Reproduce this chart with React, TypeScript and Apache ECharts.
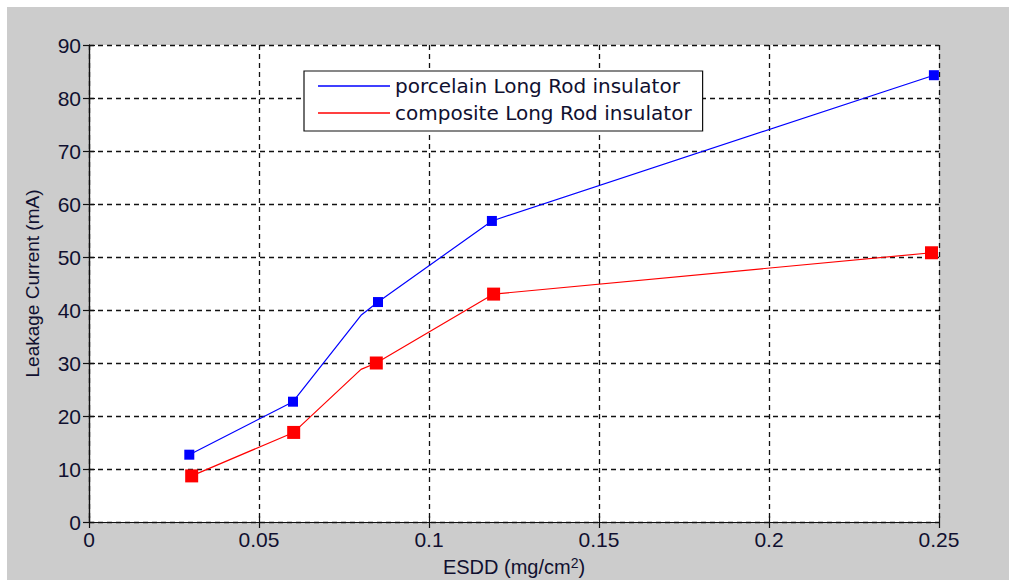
import React, { useEffect, useRef } from "react";
import * as echarts from "echarts";

// ESDD (mg/cm²) and leakage current (mA); the 0.08 point is a line vertex without a marker
const esddPorcelain = [0.0295, 0.06, 0.08, 0.085, 0.1185, 0.2485];
const currentPorcelain = [12.7, 22.7, 39.0, 41.5, 56.8, 84.3];
const esddComposite = [0.0302, 0.0602, 0.08, 0.0845, 0.119, 0.2478];
const currentComposite = [8.7, 16.9, 28.8, 30.0, 43.0, 50.8];
const hiddenMarkerIndex = 2;

const seriesNames = ["porcelain Long Rod insulator", "composite Long Rod insulator"];
const xTicks = { min: 0, max: 0.25, interval: 0.05 };
const yTicks = { min: 0, max: 90, interval: 10 };

const labelFont = "Liberation Sans";
const textColor = "#101030";

function buildData(xs: number[], ys: number[]) {
  return xs.map((x, i) =>
    i === hiddenMarkerIndex ? { value: [x, ys[i]], symbol: "none" } : { value: [x, ys[i]] }
  );
}

export default function App() {
  const ref = useRef<HTMLDivElement>(null);
  useEffect(() => {
    const chart = echarts.init(ref.current!, null, { renderer: "svg" });
    const gridLine = { type: [5, 4], color: "#111111", width: 1.3 };
    const axisLine = { show: true, lineStyle: { color: "#111111", width: 1.2 } };
    const tick = { show: true, inside: true, length: 6, lineStyle: { color: "#111111", width: 1.2 } };
    const option: any = {
      animation: false,
      backgroundColor: "#cccccc",
      grid: {
        left: 82,
        top: 38,
        right: 70,
        bottom: 58,
        containLabel: false,
        outerBoundsMode: "none",
        show: true,
        backgroundColor: "#ffffff",
        borderWidth: 0,
      },
      legend: {
        orient: "vertical",
        left: 297,
        top: 64,
        backgroundColor: "#ffffff",
        borderColor: "#111111",
        borderWidth: 1.2,
        borderRadius: 0,
        padding: [5, 11, 8, 14],
        itemWidth: 72,
        itemHeight: 1.5,
        itemGap: 7,
        icon: "rect",
        textStyle: { fontFamily: "DejaVu Sans", fontSize: 20, color: textColor, lineHeight: 20 },
        data: seriesNames,
      },
      xAxis: [
        {
          type: "value",
          position: "bottom",
          ...xTicks,
          axisLine,
          axisTick: tick,
          splitLine: { show: true, lineStyle: gridLine },
          axisLabel: {
            fontFamily: labelFont,
            fontSize: 21,
            color: textColor,
            margin: 7,
            formatter: (v: number) => String(parseFloat(v.toFixed(2))),
          },
          name: "{a|ESDD (mg/cm}{s|2}{a|)}",
          nameLocation: "middle",
          nameGap: 34,
          nameTextStyle: {
            rich: {
              a: { fontFamily: labelFont, fontSize: 20, color: textColor, lineHeight: 21 },
              s: { fontFamily: labelFont, fontSize: 14, color: textColor, lineHeight: 14, verticalAlign: "top" },
            },
          },
        },
        {
          type: "value",
          position: "top",
          ...xTicks,
          axisLine,
          axisTick: tick,
          splitLine: { show: false },
          axisLabel: { show: false },
        },
      ],
      yAxis: [
        {
          type: "value",
          position: "left",
          ...yTicks,
          axisLine,
          axisTick: tick,
          splitLine: { show: true, lineStyle: gridLine },
          axisLabel: { fontFamily: labelFont, fontSize: 21, color: textColor, margin: 8 },
          name: "Leakage Current (mA)",
          nameLocation: "middle",
          nameGap: 47,
          nameTextStyle: { fontFamily: labelFont, fontSize: 19, color: textColor },
        },
        {
          type: "value",
          position: "right",
          ...yTicks,
          axisLine,
          axisTick: tick,
          splitLine: { show: false },
          axisLabel: { show: false },
        },
      ],
      series: [
        {
          name: seriesNames[0],
          type: "line",
          xAxisIndex: 0,
          yAxisIndex: 0,
          data: buildData(esddPorcelain, currentPorcelain),
          symbol: "rect",
          symbolSize: 10,
          showAllSymbol: true,
          lineStyle: { color: "#0000ff", width: 1.2 },
          itemStyle: { color: "#0000ff" },
          z: 3,
        },
        {
          name: seriesNames[1],
          type: "line",
          xAxisIndex: 0,
          yAxisIndex: 0,
          data: buildData(esddComposite, currentComposite),
          symbol: "rect",
          symbolSize: 13,
          showAllSymbol: true,
          lineStyle: { color: "#ff0000", width: 1.2 },
          itemStyle: { color: "#ff0000" },
          z: 3,
        },
      ],
    };
    chart.setOption(option);
    return () => chart.dispose();
  }, []);
  return (
    <div style={{ position: "fixed", left: 0, top: 0, width: 1009, height: 580, background: "#ffffff" }}>
      <div ref={ref} style={{ position: "absolute", left: 7, top: 7, width: 1002, height: 573 }} />
    </div>
  );
}
